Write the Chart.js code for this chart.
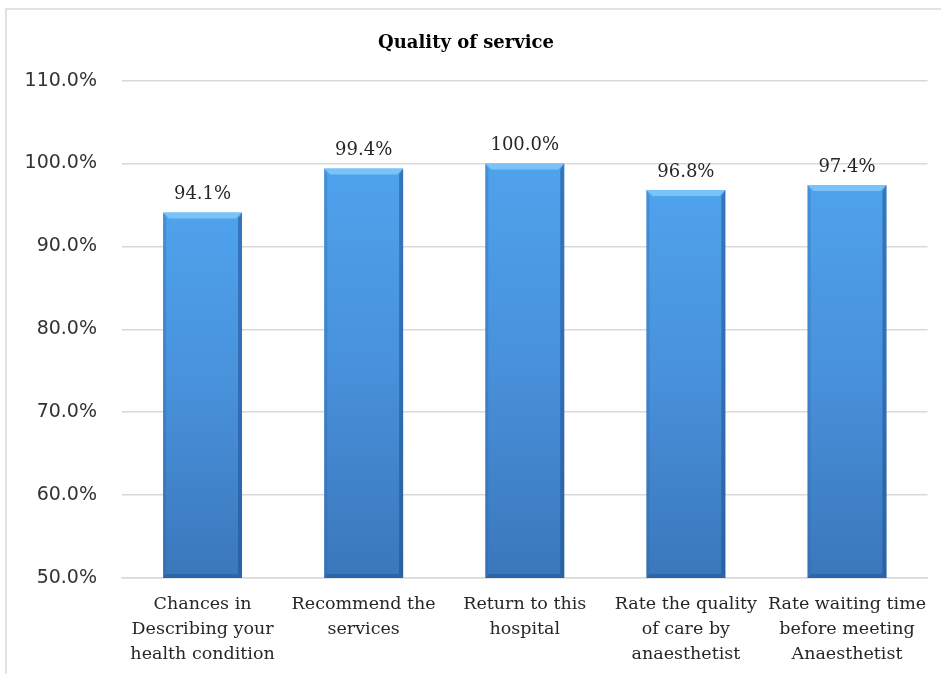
<!DOCTYPE html>
<html>
<head>
<meta charset="utf-8">
<script src="https://cdn.jsdelivr.net/npm/chart.js@4.4.1/dist/chart.umd.min.js"></script>
<style>
  html, body { margin: 0; padding: 0; background: #ffffff; }
  #wrap { width: 941px; height: 674px; position: relative; }
</style>
</head>
<body>
<div id="wrap"><canvas id="chart" width="941" height="674"></canvas></div>
<script>
// Survey results: share of positive answers per question
const categories = [
  ["Chances in", "Describing your", "health condition"],
  ["Recommend the", "services"],
  ["Return to this", "hospital"],
  ["Rate the quality", "of care by", "anaesthetist"],
  ["Rate waiting time", "before meeting", "Anaesthetist"]
];
const qualityValues = [94.1, 99.4, 100.0, 96.8, 97.4];
const yTickValues = [50, 60, 70, 80, 90, 100, 110];

const SERIF = '"DejaVu Serif", "Liberation Serif", serif';
const SANS = '"DejaVu Sans", Verdana, sans-serif';

// Light frame around the chart (left and top edges are visible)
const framePlugin = {
  id: 'frame',
  beforeDraw(chart) {
    const ctx = chart.ctx;
    ctx.save();
    ctx.strokeStyle = '#d9d9d9';
    ctx.lineWidth = 1.5;
    ctx.beginPath();
    ctx.moveTo(6, chart.height);
    ctx.lineTo(6, 9);
    ctx.lineTo(chart.width, 9);
    ctx.stroke();
    ctx.restore();
  }
};

// Bevel highlights and value labels on each bar
const barDecorPlugin = {
  id: 'barDecor',
  afterDatasetsDraw(chart) {
    const ctx = chart.ctx;
    const meta = chart.getDatasetMeta(0);
    const floor = chart.chartArea.bottom;
    meta.data.forEach((bar, i) => {
      const props = bar.getProps(['x', 'y', 'base', 'width'], true);
      const x = props.x, y = props.y, width = props.width;
      const base = Math.min(props.base, floor);
      const l = x - width / 2, r = x + width / 2;
      const b = 6;
      ctx.save();
      // top highlight
      ctx.fillStyle = 'rgba(140, 210, 255, 0.7)';
      ctx.beginPath();
      ctx.moveTo(l, y); ctx.lineTo(r, y); ctx.lineTo(r - b, y + b); ctx.lineTo(l + b, y + b);
      ctx.closePath(); ctx.fill();
      // left edge
      ctx.fillStyle = 'rgba(40, 100, 170, 0.3)';
      ctx.beginPath();
      ctx.moveTo(l, y); ctx.lineTo(l + 3, y + b); ctx.lineTo(l + 3, base - 3); ctx.lineTo(l, base);
      ctx.closePath(); ctx.fill();
      // right edge
      ctx.fillStyle = 'rgba(25, 75, 140, 0.5)';
      ctx.beginPath();
      ctx.moveTo(r, y); ctx.lineTo(r - 4, y + b); ctx.lineTo(r - 4, base - 4); ctx.lineTo(r, base);
      ctx.closePath(); ctx.fill();
      // bottom edge
      ctx.fillStyle = 'rgba(25, 75, 140, 0.4)';
      ctx.beginPath();
      ctx.moveTo(l, base); ctx.lineTo(l + 3, base - 4); ctx.lineTo(r - 4, base - 4); ctx.lineTo(r, base);
      ctx.closePath(); ctx.fill();
      // value label
      ctx.fillStyle = '#262626';
      ctx.font = '18px ' + SERIF;
      ctx.textAlign = 'center';
      ctx.textBaseline = 'bottom';
      ctx.fillText(qualityValues[i].toFixed(1) + '%', x, y - 9);
      ctx.restore();
    });
  }
};

function barGradient(context) {
  const chart = context.chart;
  const area = chart.chartArea;
  if (!area || context.type !== 'data') return '#4a94de';
  const yScale = chart.scales.y;
  const top = yScale.getPixelForValue(context.raw);
  const bottom = yScale.getPixelForValue(yScale.min);
  const g = chart.ctx.createLinearGradient(0, top, 0, bottom);
  g.addColorStop(0, '#4fa2ec');
  g.addColorStop(0.5, '#4890da');
  g.addColorStop(1, '#3a77bb');
  return g;
}

new Chart(document.getElementById('chart'), {
  type: 'bar',
  data: {
    labels: categories,
    datasets: [{
      data: qualityValues,
      backgroundColor: barGradient,
      borderWidth: 0,
      categoryPercentage: 1.0,
      barPercentage: 0.49
    }]
  },
  options: {
    responsive: false,
    animation: false,
    layout: { padding: { left: 0, right: 9, top: 0, bottom: 0 } },
    plugins: {
      legend: { display: false },
      tooltip: { enabled: false },
      title: {
        display: true,
        text: 'Quality of service',
        color: '#000000',
        font: { family: SERIF, size: 18, weight: 'bold' },
        padding: { top: 33, bottom: 26 }
      }
    },
    scales: {
      x: {
        grid: { display: false, drawTicks: false },
        border: { display: true, color: '#d9d9d9', width: 1.5 },
        ticks: {
          color: '#262626',
          font: { family: SERIF, size: 17.5, lineHeight: 1.43 },
          padding: 14,
          maxRotation: 0,
          autoSkip: false
        },
        afterFit(scale) { scale.height = 96; }
      },
      y: {
        min: yTickValues[0],
        max: yTickValues[yTickValues.length - 1],
        afterBuildTicks(scale) { scale.ticks = yTickValues.map(v => ({ value: v })); },
        grid: { color: '#d9d9d9', lineWidth: 1.5, drawTicks: false },
        border: { display: false },
        ticks: {
          color: '#333333',
          font: { family: SANS, size: 19 },
          padding: 25,
          callback: v => v.toFixed(1) + '%'
        },
        afterFit(scale) { scale.width = 122; }
      }
    }
  },
  plugins: [framePlugin, barDecorPlugin]
});
</script>
</body>
</html>
